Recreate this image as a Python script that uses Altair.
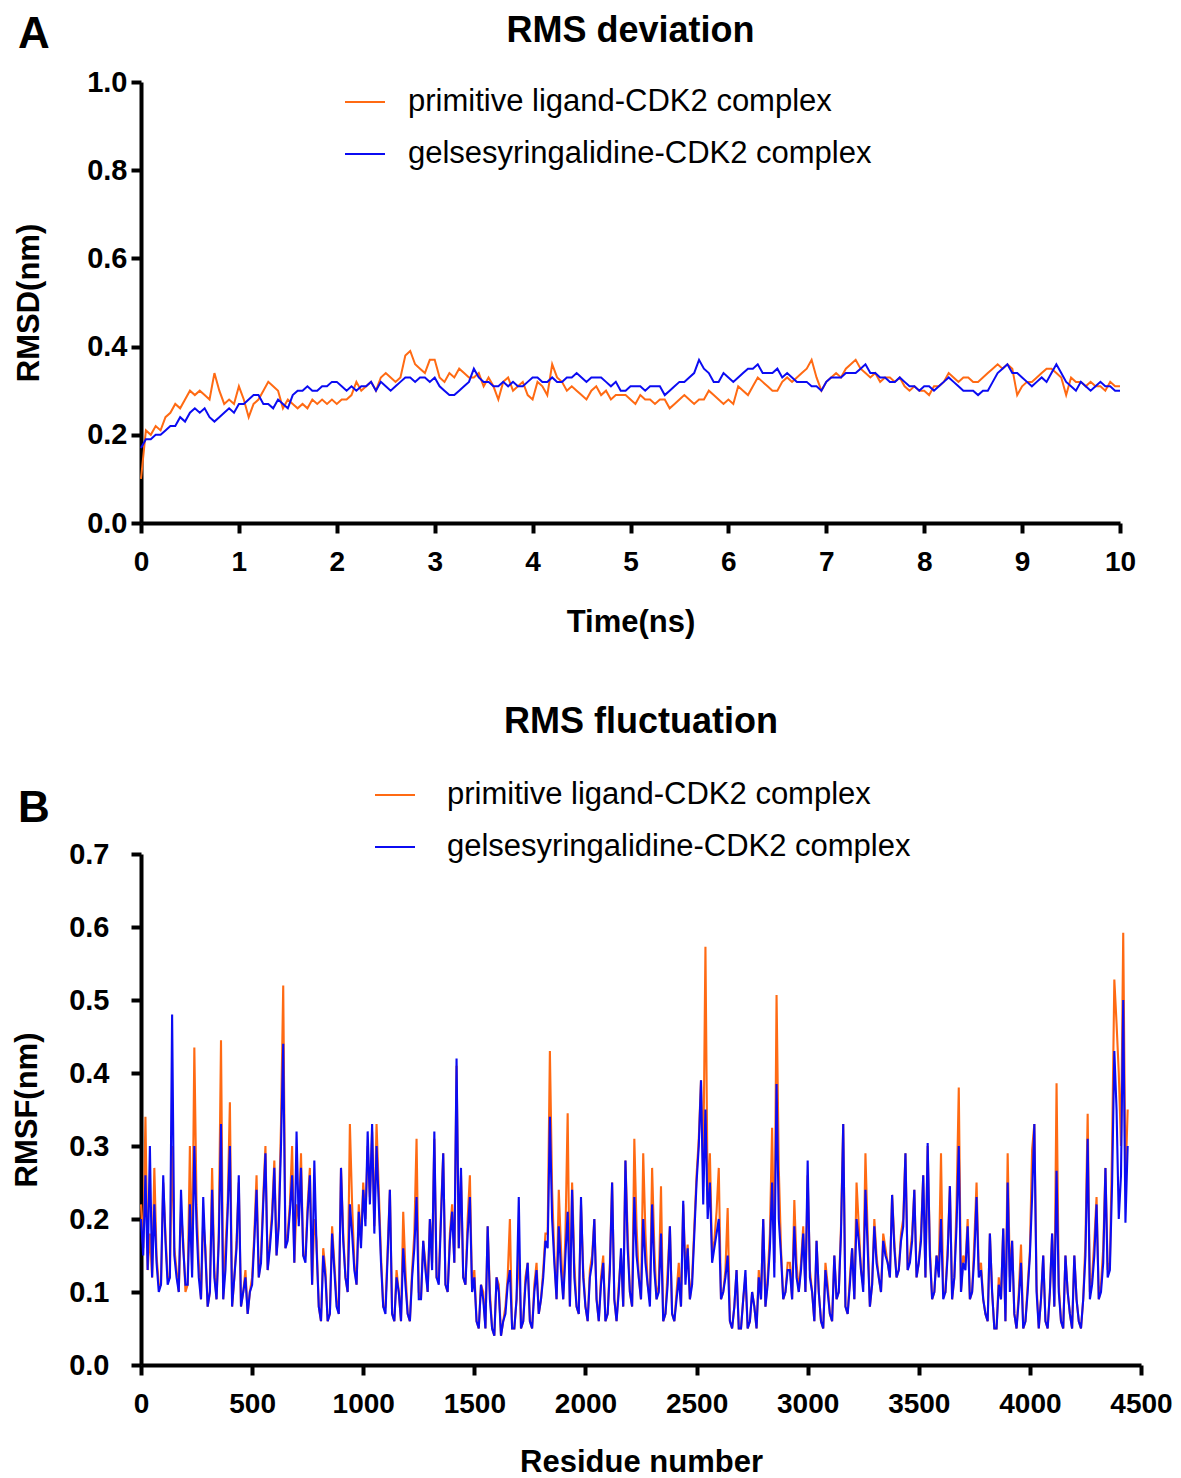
import altair as alt
import pandas as pd

FONT = "Liberation Sans"
SERIES = ["primitive ligand-CDK2 complex", "gelsesyringalidine-CDK2 complex"]
COLORS = ["#FF6A13", "#0B0BF2"]

# ---------------- RMSD (panel A) ----------------
time_ns = [round(i * 0.05, 2) for i in range(201)]
rmsd_primitive = [
    0.10, 0.21, 0.20, 0.22, 0.21, 0.24, 0.25, 0.27, 0.26, 0.28, 0.30, 0.29, 0.30, 0.29, 0.28, 0.34, 0.30, 0.27, 0.28, 0.27,
    0.31, 0.28, 0.24, 0.27, 0.28, 0.30, 0.32, 0.31, 0.30, 0.26, 0.28, 0.27, 0.26, 0.27, 0.26, 0.28, 0.27, 0.28, 0.27, 0.28,
    0.27, 0.28, 0.28, 0.29, 0.32, 0.30, 0.31, 0.32, 0.30, 0.33, 0.34, 0.33, 0.32, 0.33, 0.38, 0.39, 0.36, 0.35, 0.34, 0.37,
    0.37, 0.33, 0.32, 0.34, 0.33, 0.35, 0.34, 0.33, 0.33, 0.34, 0.31, 0.33, 0.31, 0.28, 0.32, 0.33, 0.30, 0.31, 0.32, 0.29,
    0.28, 0.32, 0.31, 0.29, 0.36, 0.33, 0.32, 0.30, 0.31, 0.30, 0.29, 0.28, 0.30, 0.31, 0.29, 0.30, 0.28, 0.29, 0.29, 0.29,
    0.28, 0.27, 0.29, 0.28, 0.28, 0.27, 0.28, 0.28, 0.26, 0.27, 0.28, 0.29, 0.28, 0.27, 0.28, 0.28, 0.30, 0.29, 0.28, 0.27,
    0.28, 0.27, 0.31, 0.30, 0.29, 0.31, 0.33, 0.32, 0.31, 0.30, 0.30, 0.32, 0.33, 0.32, 0.33, 0.34, 0.35, 0.37, 0.33, 0.30,
    0.32, 0.33, 0.34, 0.33, 0.35, 0.36, 0.37, 0.35, 0.34, 0.33, 0.34, 0.32, 0.33, 0.33, 0.32, 0.33, 0.31, 0.30, 0.31, 0.30,
    0.30, 0.29, 0.31, 0.31, 0.32, 0.34, 0.33, 0.32, 0.33, 0.33, 0.32, 0.32, 0.33, 0.34, 0.35, 0.36, 0.35, 0.36, 0.35, 0.29,
    0.31, 0.32, 0.32, 0.33, 0.34, 0.35, 0.35, 0.34, 0.33, 0.29, 0.33, 0.32, 0.32, 0.31, 0.32, 0.31, 0.31, 0.30, 0.32, 0.31,
    0.31,
]
rmsd_gelse = [
    0.17, 0.19, 0.19, 0.20, 0.20, 0.21, 0.22, 0.22, 0.24, 0.23, 0.25, 0.26, 0.25, 0.26, 0.24, 0.23, 0.24, 0.25, 0.26, 0.25,
    0.27, 0.27, 0.28, 0.29, 0.29, 0.27, 0.27, 0.26, 0.28, 0.27, 0.26, 0.29, 0.30, 0.30, 0.31, 0.30, 0.30, 0.31, 0.31, 0.32,
    0.32, 0.31, 0.30, 0.31, 0.30, 0.31, 0.31, 0.32, 0.30, 0.32, 0.31, 0.30, 0.31, 0.32, 0.33, 0.33, 0.32, 0.33, 0.33, 0.32,
    0.33, 0.31, 0.30, 0.29, 0.29, 0.30, 0.31, 0.32, 0.35, 0.33, 0.32, 0.32, 0.31, 0.31, 0.32, 0.31, 0.32, 0.31, 0.31, 0.32,
    0.33, 0.33, 0.32, 0.32, 0.33, 0.32, 0.32, 0.33, 0.33, 0.34, 0.33, 0.32, 0.33, 0.33, 0.33, 0.32, 0.31, 0.32, 0.30, 0.30,
    0.31, 0.31, 0.31, 0.30, 0.31, 0.31, 0.31, 0.29, 0.30, 0.31, 0.32, 0.32, 0.33, 0.34, 0.37, 0.35, 0.34, 0.32, 0.32, 0.34,
    0.33, 0.32, 0.33, 0.34, 0.35, 0.35, 0.36, 0.34, 0.34, 0.34, 0.35, 0.33, 0.34, 0.33, 0.32, 0.32, 0.32, 0.31, 0.31, 0.30,
    0.32, 0.33, 0.33, 0.33, 0.34, 0.34, 0.34, 0.35, 0.36, 0.34, 0.34, 0.33, 0.33, 0.32, 0.32, 0.33, 0.32, 0.31, 0.31, 0.30,
    0.31, 0.31, 0.30, 0.31, 0.32, 0.33, 0.32, 0.31, 0.30, 0.30, 0.30, 0.29, 0.30, 0.30, 0.32, 0.34, 0.35, 0.36, 0.34, 0.34,
    0.33, 0.32, 0.31, 0.32, 0.33, 0.32, 0.34, 0.36, 0.34, 0.32, 0.31, 0.30, 0.32, 0.31, 0.30, 0.31, 0.32, 0.31, 0.31, 0.30,
    0.30,
]

# ---------------- RMSF (panel B) ----------------
# values read at residues 0, 20, 40, ... 4440
residue_even = list(range(0, 4441, 20))
rmsf_primitive_even = [
    0.22, 0.34, 0.18, 0.27, 0.11, 0.25, 0.12, 0.30, 0.13, 0.21, 0.10, 0.30, 0.435, 0.14, 0.20, 0.08, 0.27, 0.09, 0.445, 0.16, 0.36, 0.12, 0.25, 0.10, 0.07,
    0.12, 0.26, 0.15, 0.30, 0.17, 0.28, 0.20, 0.52, 0.18, 0.30, 0.22, 0.29, 0.15, 0.27, 0.20, 0.08, 0.16, 0.06, 0.19, 0.09, 0.27, 0.12, 0.33, 0.14, 0.22,
    0.25, 0.30, 0.32, 0.33, 0.15, 0.08, 0.24, 0.06, 0.10, 0.21, 0.07, 0.13, 0.31, 0.09, 0.14, 0.20, 0.31, 0.12, 0.29, 0.10, 0.22, 0.41, 0.26, 0.11, 0.26,
    0.13, 0.05, 0.10, 0.19, 0.05, 0.12, 0.04, 0.08, 0.20, 0.05, 0.16, 0.06, 0.14, 0.05, 0.14, 0.09, 0.18, 0.43, 0.15, 0.24, 0.09, 0.345, 0.25, 0.08, 0.22,
    0.08, 0.13, 0.20, 0.06, 0.15, 0.07, 0.25, 0.06, 0.15, 0.28, 0.10, 0.31, 0.12, 0.29, 0.11, 0.27, 0.09, 0.245, 0.07, 0.19, 0.06, 0.14, 0.22, 0.165, 0.12,
    0.26, 0.39, 0.573, 0.29, 0.17, 0.27, 0.10, 0.215, 0.05, 0.13, 0.05, 0.12, 0.06, 0.08, 0.13, 0.20, 0.12, 0.325, 0.507, 0.16, 0.10, 0.14, 0.226, 0.10, 0.19,
    0.26, 0.10, 0.17, 0.06, 0.14, 0.07, 0.15, 0.10, 0.33, 0.07, 0.16, 0.25, 0.13, 0.29, 0.08, 0.20, 0.12, 0.18, 0.14, 0.233, 0.12, 0.18, 0.29, 0.15, 0.24,
    0.14, 0.26, 0.30, 0.09, 0.15, 0.29, 0.10, 0.245, 0.12, 0.38, 0.15, 0.20, 0.10, 0.25, 0.14, 0.07, 0.18, 0.05, 0.12, 0.187, 0.29, 0.17, 0.05, 0.165, 0.06,
    0.155, 0.33, 0.05, 0.15, 0.05, 0.18, 0.386, 0.06, 0.15, 0.07, 0.15, 0.06, 0.09, 0.344, 0.12, 0.23, 0.11, 0.27, 0.14, 0.528, 0.40, 0.592, 0.35,
]
rmsf_gelse_even = [
    0.20, 0.26, 0.30, 0.22, 0.10, 0.26, 0.11, 0.48, 0.12, 0.24, 0.11, 0.22, 0.30, 0.12, 0.23, 0.08, 0.24, 0.09, 0.33, 0.13, 0.30, 0.12, 0.26, 0.10, 0.07,
    0.11, 0.24, 0.14, 0.29, 0.16, 0.27, 0.19, 0.44, 0.17, 0.26, 0.32, 0.27, 0.14, 0.26, 0.28, 0.08, 0.15, 0.06, 0.18, 0.08, 0.27, 0.12, 0.22, 0.13, 0.21,
    0.24, 0.32, 0.33, 0.30, 0.14, 0.07, 0.24, 0.06, 0.10, 0.16, 0.07, 0.12, 0.23, 0.09, 0.13, 0.20, 0.32, 0.11, 0.29, 0.10, 0.21, 0.42, 0.27, 0.11, 0.23,
    0.12, 0.05, 0.09, 0.19, 0.05, 0.12, 0.04, 0.07, 0.13, 0.05, 0.23, 0.06, 0.14, 0.05, 0.13, 0.09, 0.17, 0.34, 0.14, 0.19, 0.09, 0.21, 0.24, 0.08, 0.23,
    0.08, 0.12, 0.20, 0.06, 0.14, 0.07, 0.25, 0.06, 0.16, 0.28, 0.10, 0.23, 0.12, 0.20, 0.11, 0.22, 0.09, 0.18, 0.07, 0.19, 0.06, 0.12, 0.225, 0.16, 0.11,
    0.25, 0.39, 0.35, 0.25, 0.16, 0.20, 0.10, 0.15, 0.05, 0.13, 0.05, 0.13, 0.06, 0.08, 0.12, 0.20, 0.11, 0.25, 0.385, 0.15, 0.10, 0.13, 0.19, 0.10, 0.18,
    0.28, 0.10, 0.17, 0.06, 0.13, 0.07, 0.15, 0.10, 0.33, 0.07, 0.16, 0.20, 0.13, 0.24, 0.08, 0.19, 0.12, 0.17, 0.14, 0.233, 0.12, 0.17, 0.29, 0.14, 0.24,
    0.14, 0.26, 0.304, 0.09, 0.15, 0.20, 0.10, 0.245, 0.12, 0.30, 0.14, 0.19, 0.10, 0.23, 0.13, 0.07, 0.18, 0.05, 0.11, 0.187, 0.25, 0.17, 0.05, 0.14, 0.06,
    0.15, 0.33, 0.05, 0.15, 0.05, 0.18, 0.266, 0.06, 0.15, 0.07, 0.15, 0.06, 0.09, 0.31, 0.11, 0.22, 0.10, 0.27, 0.13, 0.43, 0.20, 0.50, 0.30,
]
# values read at residues 10, 30, 50, ... 4430
residue_odd = list(range(10, 4431, 20))
rmsf_primitive_odd = [
    0.16, 0.13, 0.12, 0.15, 0.11, 0.18, 0.12, 0.16, 0.10, 0.17, 0.11, 0.13, 0.22, 0.09, 0.16, 0.10, 0.13, 0.18, 0.09, 0.22, 0.08, 0.17, 0.08, 0.13, 0.10,
    0.18, 0.12, 0.23, 0.13, 0.21, 0.15, 0.33, 0.16, 0.22, 0.14, 0.20, 0.15, 0.22, 0.11, 0.17, 0.06, 0.13, 0.07, 0.14, 0.07, 0.18, 0.10, 0.22, 0.11, 0.17,
    0.20, 0.23, 0.19, 0.24, 0.08, 0.16, 0.07, 0.13, 0.06, 0.13, 0.06, 0.18, 0.10, 0.17, 0.10, 0.14, 0.12, 0.21, 0.11, 0.18, 0.14, 0.16, 0.12, 0.20, 0.10,
    0.06, 0.11, 0.05, 0.10, 0.04, 0.11, 0.06, 0.12, 0.05, 0.09, 0.05, 0.12, 0.06, 0.11, 0.07, 0.13, 0.18, 0.24, 0.09, 0.16, 0.18, 0.08, 0.14, 0.07, 0.13,
    0.06, 0.15, 0.09, 0.12, 0.06, 0.14, 0.09, 0.11, 0.08, 0.18, 0.08, 0.19, 0.09, 0.18, 0.09, 0.16, 0.11, 0.06, 0.13, 0.07, 0.10, 0.08, 0.13, 0.09, 0.19,
    0.31, 0.26, 0.22, 0.15, 0.21, 0.09, 0.13, 0.06, 0.08, 0.05, 0.09, 0.05, 0.10, 0.05, 0.09, 0.08, 0.18, 0.14, 0.27, 0.09, 0.14, 0.09, 0.14, 0.14, 0.10,
    0.13, 0.06, 0.10, 0.05, 0.11, 0.06, 0.09, 0.19, 0.08, 0.12, 0.09, 0.19, 0.11, 0.18, 0.11, 0.15, 0.10, 0.16, 0.12, 0.17, 0.13, 0.20, 0.13, 0.18, 0.12,
    0.18, 0.12, 0.16, 0.10, 0.13, 0.10, 0.16, 0.09, 0.22, 0.10, 0.14, 0.09, 0.17, 0.13, 0.09, 0.06, 0.10, 0.05, 0.09, 0.06, 0.12, 0.07, 0.10, 0.05, 0.11,
    0.295, 0.11, 0.09, 0.06, 0.10, 0.08, 0.11, 0.05, 0.10, 0.05, 0.09, 0.05, 0.17, 0.10, 0.17, 0.09, 0.16, 0.13, 0.30, 0.468, 0.30, 0.25,
]
rmsf_gelse_odd = [
    0.15, 0.13, 0.12, 0.14, 0.11, 0.17, 0.12, 0.15, 0.10, 0.16, 0.11, 0.12, 0.19, 0.09, 0.15, 0.10, 0.12, 0.17, 0.09, 0.21, 0.08, 0.16, 0.08, 0.12, 0.10,
    0.17, 0.12, 0.22, 0.13, 0.20, 0.15, 0.30, 0.16, 0.21, 0.14, 0.19, 0.15, 0.21, 0.11, 0.16, 0.06, 0.12, 0.07, 0.13, 0.07, 0.17, 0.10, 0.18, 0.11, 0.16,
    0.19, 0.22, 0.18, 0.22, 0.08, 0.15, 0.07, 0.12, 0.06, 0.11, 0.06, 0.16, 0.09, 0.17, 0.10, 0.13, 0.12, 0.20, 0.11, 0.17, 0.14, 0.16, 0.12, 0.18, 0.10,
    0.06, 0.11, 0.05, 0.09, 0.04, 0.10, 0.06, 0.11, 0.05, 0.09, 0.05, 0.11, 0.06, 0.10, 0.07, 0.12, 0.16, 0.20, 0.09, 0.13, 0.15, 0.08, 0.12, 0.07, 0.12,
    0.06, 0.14, 0.09, 0.11, 0.06, 0.13, 0.09, 0.10, 0.08, 0.16, 0.08, 0.15, 0.09, 0.14, 0.08, 0.13, 0.10, 0.06, 0.11, 0.07, 0.09, 0.08, 0.11, 0.09, 0.18,
    0.30, 0.22, 0.20, 0.14, 0.18, 0.09, 0.12, 0.06, 0.08, 0.05, 0.09, 0.05, 0.10, 0.05, 0.09, 0.08, 0.16, 0.12, 0.20, 0.09, 0.13, 0.09, 0.12, 0.13, 0.10,
    0.12, 0.06, 0.10, 0.05, 0.10, 0.06, 0.09, 0.18, 0.08, 0.11, 0.09, 0.17, 0.10, 0.16, 0.11, 0.14, 0.10, 0.15, 0.12, 0.16, 0.13, 0.19, 0.13, 0.17, 0.12,
    0.17, 0.12, 0.15, 0.10, 0.12, 0.09, 0.15, 0.09, 0.19, 0.10, 0.13, 0.09, 0.15, 0.12, 0.09, 0.06, 0.10, 0.05, 0.09, 0.06, 0.10, 0.07, 0.09, 0.05, 0.10,
    0.23, 0.10, 0.09, 0.06, 0.10, 0.08, 0.10, 0.05, 0.10, 0.05, 0.09, 0.05, 0.15, 0.09, 0.15, 0.09, 0.14, 0.12, 0.25, 0.35, 0.26, 0.195,
]

rmsd_ticks_y = [0.0, 0.2, 0.4, 0.6, 0.8, 1.0]
rmsd_ticks_x = list(range(0, 11))
rmsf_ticks_y = [0.0, 0.1, 0.2, 0.3, 0.4, 0.5, 0.6, 0.7]
rmsf_ticks_x = [0, 500, 1000, 1500, 2000, 2500, 3000, 3500, 4000, 4500]

# ---------------- data frames ----------------
dA0 = pd.DataFrame({"t": time_ns, "v": rmsd_primitive, "s": SERIES[0]})
dA1 = pd.DataFrame({"t": time_ns, "v": rmsd_gelse, "s": SERIES[1]})
dB0 = pd.concat([
    pd.DataFrame({"r": residue_even, "v": rmsf_primitive_even}),
    pd.DataFrame({"r": residue_odd, "v": rmsf_primitive_odd}),
]).sort_values("r").assign(s=SERIES[0])
dB1 = pd.concat([
    pd.DataFrame({"r": residue_even, "v": rmsf_gelse_even}),
    pd.DataFrame({"r": residue_odd, "v": rmsf_gelse_odd}),
]).sort_values("r").assign(s=SERIES[1])

color_scale = alt.Scale(domain=SERIES, range=COLORS)


def legend(x, y, offset):
    return alt.Legend(
        title=None, orient="none", legendX=x, legendY=y, padding=0,
        symbolType="stroke", symbolSize=1600, symbolStrokeWidth=2,
        labelFont=FONT, labelFontSize=31, labelColor="black",
        labelFontWeight="normal", labelOffset=offset, labelLimit=800, rowPadding=16,
    )


def text_layer(txt, size, x, y, align):
    return alt.Chart(pd.DataFrame({"k": [0]})).mark_text(
        text=txt, font=FONT, fontSize=size, fontWeight="bold", align=align,
        baseline="alphabetic", color="black"
    ).encode(x=alt.value(x), y=alt.value(y))


# ---------------- panel A ----------------
WA, HA = 979, 441
xA = alt.X("t:Q", scale=alt.Scale(domain=[0, 10], nice=False),
           axis=alt.Axis(values=rmsd_ticks_x, format="d", title="Time(ns)", labelFlush=False,
                         labelFontSize=28, labelPadding=15, titlePadding=31))
yA = alt.Y("v:Q", scale=alt.Scale(domain=[0, 1.0], nice=False),
           axis=alt.Axis(values=rmsd_ticks_y, format=".1f", title="RMSD(nm)",
                         labelPadding=4, titlePadding=41))
cA = alt.Color("s:N", scale=color_scale, legend=legend(203, -1, 22))

lineA0 = alt.Chart(dA0).mark_line(strokeWidth=2).encode(x=xA, y=yA, color=cA)
lineA1 = alt.Chart(dA1).mark_line(strokeWidth=2).encode(x=xA, y=yA, color=cA)

panelA = alt.layer(
    lineA0, lineA1,
    text_layer("A", 44, -123, -34, "left"),
    text_layer("RMS deviation", 36, WA / 2, -40, "center"),
).properties(width=WA, height=HA)

# ---------------- panel B ----------------
WB, HB = 1000, 511
xB = alt.X("r:Q", scale=alt.Scale(domain=[0, 4500], nice=False),
           axis=alt.Axis(values=rmsf_ticks_x, format="d", title="Residue number", labelFlush=False,
                         labelFontSize=28, labelPadding=15, titlePadding=29))
yB = alt.Y("v:Q", scale=alt.Scale(domain=[0, 0.7], nice=False),
           axis=alt.Axis(values=rmsf_ticks_y, format=".1f", title="RMSF(nm)",
                         labelPadding=22, titlePadding=25))
cB = alt.Color("s:N", scale=color_scale, legend=legend(233, -80, 31))

lineB0 = alt.Chart(dB0).mark_line(strokeWidth=2.1).encode(x=xB, y=yB, color=cB)
lineB1 = alt.Chart(dB1).mark_line(strokeWidth=2.1).encode(x=xB, y=yB, color=cB)

panelB = alt.layer(
    lineB0, lineB1,
    text_layer("B", 44, -123, -32, "left"),
    text_layer("RMS fluctuation", 36, WB / 2, -121, "center"),
).properties(width=WB, height=HB)

chart = alt.vconcat(panelA, panelB, spacing=67).resolve_scale(
    color="independent"
).resolve_legend(color="independent").properties(
    padding={"left": 3, "top": 5, "right": 0, "bottom": 0},
    background="white",
).configure_view(stroke=None).configure_axis(
    grid=False, domainColor="black", domainWidth=4, tickColor="black", tickWidth=4,
    tickSize=10, labelFont=FONT, labelFontSize=29, labelFontWeight="bold",
    labelColor="black", titleFont=FONT, titleFontSize=31, titleFontWeight="bold",
    titleColor="black", labelOverlap=False,
)

chart.save("out.html", embed_options={"renderer": "svg", "actions": False})
